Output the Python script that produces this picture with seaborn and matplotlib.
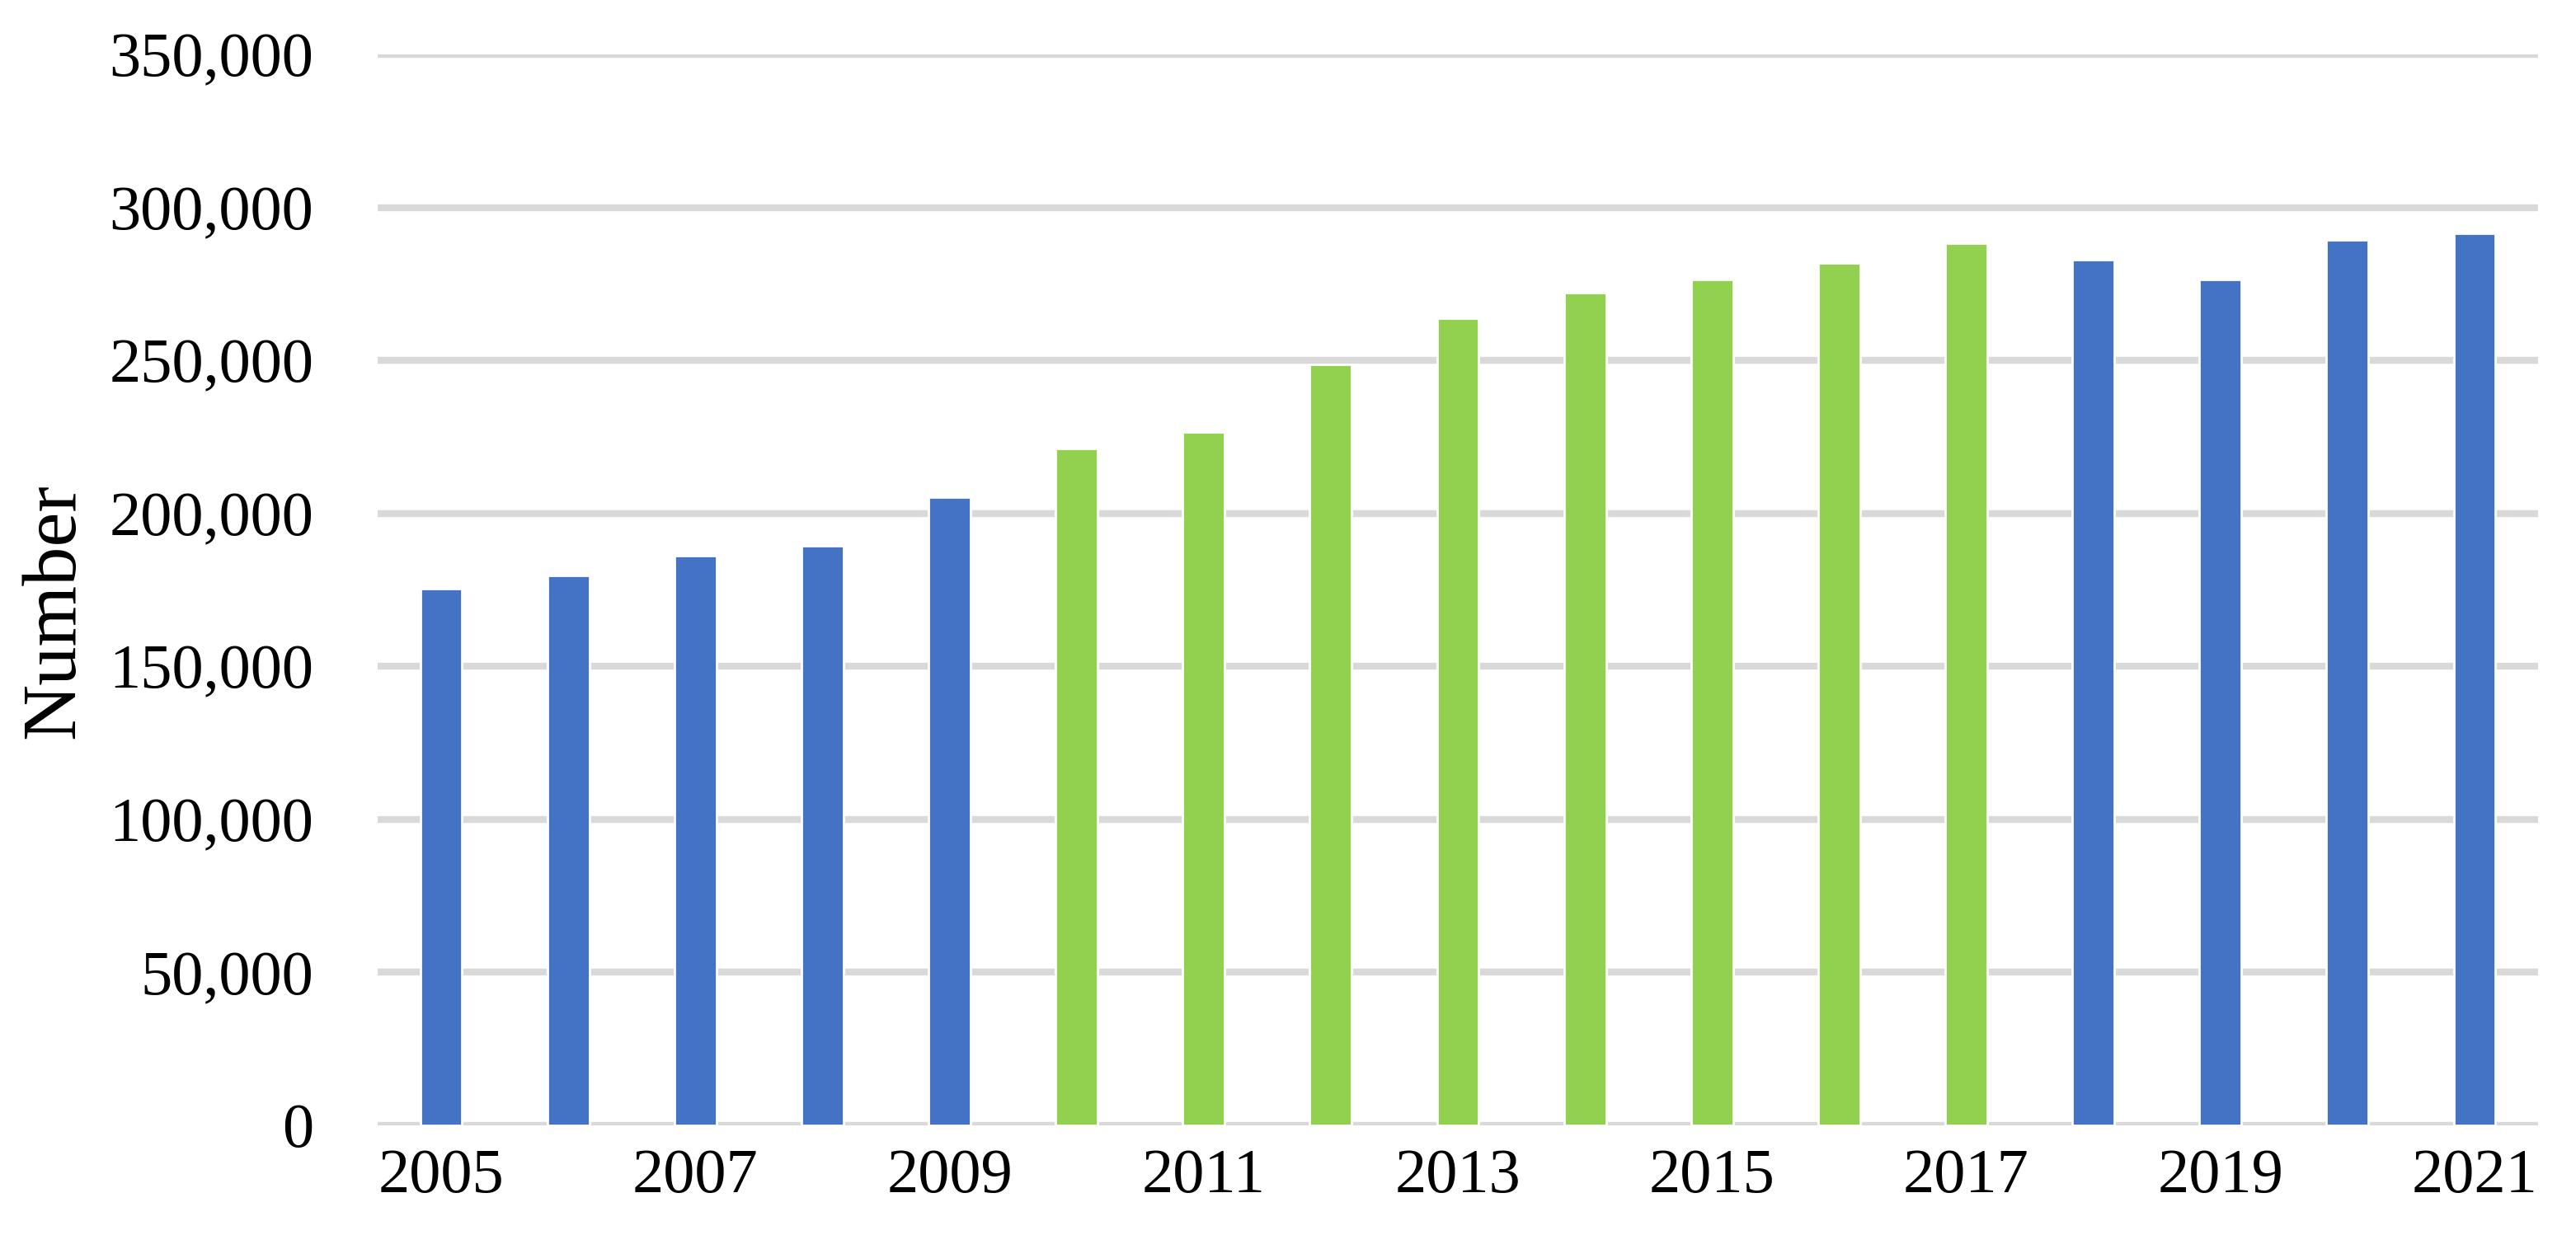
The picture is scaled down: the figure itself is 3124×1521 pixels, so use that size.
import matplotlib
matplotlib.use("Agg")
import matplotlib.pyplot as plt
import seaborn as sns
import pandas as pd
from matplotlib.ticker import FuncFormatter

years = [str(y) for y in range(2005, 2022)]
values = [175500, 179800, 186100, 189300, 205200, 221200, 226500, 248800,
          263800, 272200, 276500, 281700, 288200, 282900, 276500, 289300, 291400]
period = ["blue"] * 5 + ["green"] * 8 + ["blue"] * 4
palette = {"blue": "#4472C4", "green": "#92D050"}
xtick_labels = years[::2]
y_ticks = list(range(0, 350001, 50000))

df = pd.DataFrame({"year": years, "value": values, "period": period})

sns.set_theme(style="white")
plt.rcParams["font.family"] = ["Liberation Serif", "DejaVu Serif"]

fig = plt.figure(figsize=(15.62, 7.605), dpi=200)
ax = fig.add_axes([0.1466, 0.1026, 0.8387, 0.854])

sns.barplot(data=df, x="year", y="value", hue="period", palette=palette,
            dodge=False, width=0.33, legend=False, ax=ax, zorder=3,
            saturation=1)

ax.set_ylim(0, 350000)
ax.set_xlim(-0.5, 16.5)
ax.set_yticks(y_ticks)
ax.yaxis.set_major_formatter(FuncFormatter(lambda v, p: f"{int(v):,}"))
ax.set_xticks(range(0, 17, 2))
ax.set_xticklabels(xtick_labels)
ax.grid(axis="y", color="#D9D9D9", linewidth=3.0, zorder=0)
ax.set_axisbelow(True)
for s in ax.spines.values():
    s.set_visible(False)
ax.tick_params(axis="both", length=0, labelsize=27.5, colors="black")
ax.tick_params(axis="y", pad=28)
ax.tick_params(axis="x", pad=10)
ax.set_xlabel("")
ax.set_ylabel("Number", fontsize=34, color="black")
ax.yaxis.set_label_coords(-0.133, 0.48)

fig.savefig("out.png", dpi=200, facecolor="white")
